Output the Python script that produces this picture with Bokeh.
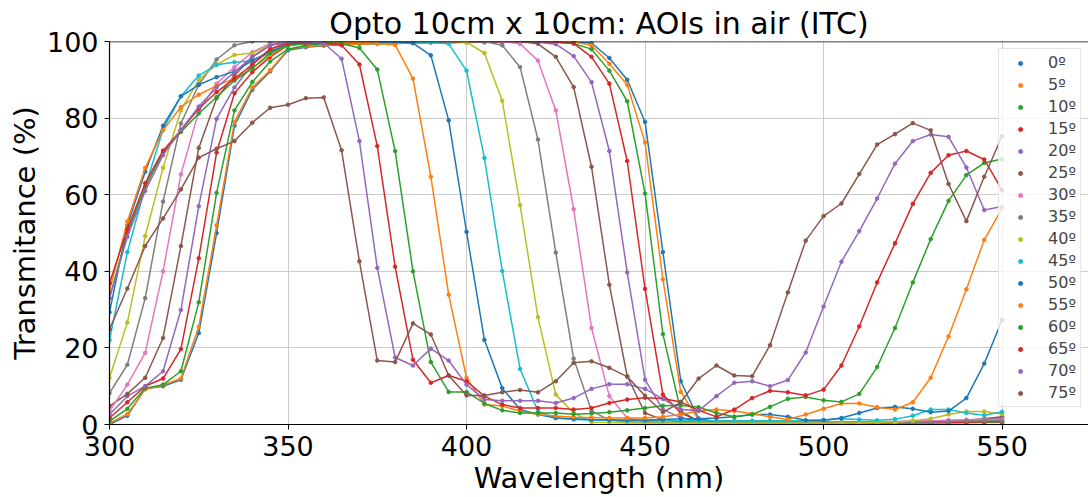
from bokeh.plotting import figure
from bokeh.models import Legend, LegendItem, Span, ColumnDataSource
from bokeh.embed import file_html
from bokeh.resources import INLINE

wavelength = list(range(300, 551, 5))

angle_labels = ["0º", "5º", "10º", "15º", "20º", "25º", "30º", "35º",
                "40º", "45º", "50º", "55º", "60º", "65º", "70º", "75º"]

t_00 = [0, 2.3, 9.3, 10, 11.7, 23.9, 50, 78, 87.4, 92.2, 97.7,
        98.5, 98.9, 99.2, 99.3, 99.4, 99.5, 99.6, 99.7, 99.7, 99.8, 99.8, 99.8, 99.9, 99.9, 99.9, 99.9,
        99.6, 95.7, 90, 79, 45, 11.3,
        1.5, 0.8, 0.6, 0.5, 0.5, 0.5, 0.5, 0.5, 0.5, 0.5, 0.5, 0.5, 0.5, 0.5, 0.5, 0.6, 0.6, 0.7]
t_05 = [0.4, 2.7, 9.2, 10.3, 12, 25.5, 52, 79, 88, 92.5, 98,
        98.7, 99, 99.2, 99.3, 99.4, 99.5, 99.6, 99.7, 99.7, 99.8, 99.8, 99.8, 99.9, 99.9, 99.9, 99.9,
        99, 94.2, 88.7, 73.6, 37.9, 8.5,
        1.2, 0.7, 0.5, 0.4, 0.4, 0.4, 0.4, 0.4, 0.4, 0.4, 0.4, 0.4, 0.4, 0.4, 0.4, 0.5, 0.5, 0.5]
t_10 = [0.9, 4.1, 9.5, 10.4, 13.9, 31.9, 60.5, 82, 89.4, 94.8, 98,
        99, 99.4, 99.6, 99.7, 99.8, 99.8, 99.8, 99.9, 99.9, 99.9, 99.9, 99.9, 99.9, 99.9, 99.9, 99.5,
        98, 92.4, 84.4, 60.3, 23.6, 3.5,
        0.8, 0.5, 0.4, 0.4, 0.4, 0.4, 0.4, 0.4, 0.4, 0.4, 0.4, 0.4, 0.4, 0.5, 0.5, 0.5, 0.6, 0.6]
t_15 = [1.7, 5.8, 10, 12, 19.7, 43.4, 71, 86.5, 92, 96, 99,
        99.5, 99.7, 99.8, 99.9, 99.9, 99.9, 99.9, 99.9, 99.9, 99.9, 99.9, 99.9, 99.9, 99.9, 99.8,
        99.5, 96, 89, 68.8, 35.4, 7.8, 3,
        1, 0.6, 0.5, 0.5, 0.5, 0.5, 0.5, 0.5, 0.5, 0.5, 0.5, 0.5, 0.5, 0.5, 0.6, 0.6, 0.7, 0.8]
t_20 = [2.6, 7.4, 10, 13.9, 29.9, 57, 79.8, 88, 94, 98, 100,
        100, 100, 100, 100, 100, 100, 100, 100, 100, 100, 100, 100, 100, 99.8, 99.3,
        96.2, 89.4, 71.4, 39.7, 11.7, 3.9, 1.8,
        0.8, 0.5, 0.5, 0.5, 0.5, 0.5, 0.5, 0.5, 0.5, 0.5, 0.5, 0.6, 0.6, 0.7, 0.8, 1, 1.3, 1.6]
t_25 = [4.8, 8, 12.2, 22.6, 46.6, 72.2, 85.2, 91.1, 96, 99, 99.8,
        100, 100, 100, 100, 100, 100, 100, 100, 100, 100, 100, 100, 100,
        99.4, 96, 88.1, 67.3, 36.5, 12.6, 3, 1.2, 0.8,
        0.6, 0.6, 0.6, 0.6, 0.6, 0.6, 0.6, 0.6, 0.6, 0.6, 0.7, 0.7, 0.8, 0.9, 1, 1.2, 1.5, 2]
t_30 = [3.5, 10.4, 18.7, 40, 65.3, 81.8, 89, 93.3, 97.2, 99.5, 100,
        100, 100, 100, 100, 100, 100, 100, 100, 100, 100, 100, 100,
        99.4, 95, 82, 56.2, 25.2, 7.4, 1.7, 0.8, 0.5, 0.5,
        0.5, 0.5, 0.5, 0.5, 0.5, 0.5, 0.5, 0.5, 0.6, 0.6, 0.7, 0.8, 0.9, 1, 1.1, 1.2, 1.3, 1.3]
t_35 = [8.2, 15.6, 33, 58.2, 78.6, 88.7, 95.3, 99, 100, 100, 100,
        100, 100, 100, 100, 100, 100, 100, 100, 100, 100, 100,
        99, 93.3, 74.4, 44.9, 17.2, 3.5, 1.2, 0.7, 0.5, 0.5, 0.5,
        0.5, 0.5, 0.5, 0.5, 0.5, 0.5, 0.5, 0.5, 0.5, 0.5, 0.5, 0.5, 0.6, 0.7, 0.8, 0.9, 1, 1]
t_40 = [12.2, 26.6, 49.2, 67, 82, 90, 94, 96.5, 97, 99, 100,
        100, 100, 100, 100, 100, 100, 100, 100, 100, 99.8,
        97, 84.5, 57.3, 28, 7.8, 3, 0.6, 0.5, 0.4, 0.4, 0.4, 0.4,
        0.4, 0.4, 0.4, 0.4, 0.4, 0.4, 0.4, 0.4, 0.4, 0.4, 0.5, 0.6, 1, 1.5, 2.6, 3.4, 3.4, 2.7]
t_45 = [22, 45, 62, 77, 85.7, 91.1, 93.9, 94.6, 95, 97, 99.5,
        99.7, 99.8, 99.9, 99.9, 99.9, 99.9, 99.9, 99.8,
        99.4, 92.4, 69.6, 40.1, 14.5, 3.5, 1.7, 1.3, 1.2, 1.1, 1, 1, 1, 1,
        1, 1, 1, 1, 1, 1, 1, 1.2, 1.5, 1.3, 1.1, 1.4, 2.3, 3.9, 3.9, 3, 2.4, 3.3]
t_50 = [29.3, 52, 66, 78, 85.7, 88.7, 90.7, 92.2, 95, 97.5, 99,
        99.5, 99.7, 99.8, 99.9, 99.9, 99.9,
        99.6, 96.4, 79.4, 50.3, 22.1, 9.5, 3.9, 2.6, 1.7, 1.5, 1.3, 1.2, 1.2, 1.2, 1.3, 1.5,
        1.5, 1.7, 2, 2.6, 2.6, 2, 1.1, 1.1, 1.7, 3, 4.3, 4.6, 4.1, 3.2, 3.5, 6.9, 15.9, 27.3]
t_55 = [35, 53, 67, 76.8, 82.9, 86.1, 88.5, 90.3, 93, 96.5, 99,
        99.5, 99.7, 99.8, 99.8, 99.5,
        99.1, 90.3, 64.7, 33.9, 12.2, 5.2, 4.8, 3.5, 2.6, 2.2, 1.9, 1.8, 1.7, 1.7, 1.7, 2, 2.6,
        3.5, 3.9, 3.5, 2.8, 2, 1.3, 2.6, 4.1, 5.5, 5.5, 4.5, 3.9, 5.8, 12.2, 23, 35.3, 48.2, 56.4]
t_60 = [33, 50, 62, 71, 76.4, 81.2, 85.5, 89.8, 93, 97, 99,
        99.5, 99.7, 99.5,
        98.3, 92.7, 71.4, 40, 16.3, 8.5, 8.5, 5.5, 3.7, 3, 3, 3, 2.7, 2.9, 3.2, 3.7, 4.3, 4.9, 5,
        4.5, 3, 2, 2.6, 4.6, 6.7, 7.2, 6.3, 5.9, 8, 15, 25.2, 37.1, 48.4, 58.4, 65.1, 68.3, 69.3]
t_65 = [36.9, 51, 63, 71.5, 76.8, 82.5, 86.8, 90.3, 94, 98, 99.5,
        99.7, 99.6,
        99, 94, 72.7, 41.2, 16.9, 10.9, 12.8, 11.3, 7.4, 5.2, 4.3, 4.3, 4.3, 3.9, 4.3, 5.6, 6.5, 7, 6.8, 5.9,
        3.7, 2, 3.9, 6.9, 8.8, 8.4, 7.6, 9.1, 15.4, 25.6, 37.1, 47.3, 57.6, 65.7, 70.3, 71.4, 69.2, 61.2]
t_70 = [33, 49, 61, 70.3, 77, 83, 88, 92, 96, 99, 100,
        100, 99.6,
        95.5, 74, 40.9, 17.5, 15.4, 19.8, 16.7, 10.4, 6.5, 6.2, 6.2, 6.2, 5.6, 6.9, 9.3, 10.5, 10.5, 9.3, 6.7, 3.9,
        3.6, 7.4, 10.9, 11.3, 10, 11.6, 18.8, 30.8, 42.5, 50.5, 59, 68.1, 74, 75.7, 75.1, 67.1, 56, 56.9]
t_75 = [24.9, 35.5, 46.6, 53.8, 61.4, 69.7, 72, 74, 78.8, 82.7, 83.5,
        85.2, 85.4,
        71.6, 42.6, 16.7, 16.3, 26.4, 23.5, 12.8, 7.6, 7.6, 8.4, 9, 8.4, 11.3, 16.1, 16.5, 14.8, 12.5, 7.5, 3.2, 5.8,
        12, 15.4, 12.8, 12.6, 20.7, 34.5, 48, 54.4, 57.7, 65.4, 73.1, 75.8, 78.7, 76.8, 62.8, 53.1, 64.7, 75.3]

series = [t_00, t_05, t_10, t_15, t_20, t_25, t_30, t_35,
          t_40, t_45, t_50, t_55, t_60, t_65, t_70, t_75]

palette = ["#1f77b4", "#ff7f0e", "#2ca02c", "#d62728", "#9467bd",
           "#8c564b", "#e377c2", "#7f7f7f", "#bcbd22", "#17becf"]

FONT = "DejaVu Sans"

p = figure(width=1088, height=497, x_range=(300, 574.2), y_range=(0, 100),
           output_backend="svg", toolbar_location=None,
           min_border_left=109, min_border_right=0, min_border_top=41, min_border_bottom=72,
           title="Opto 10cm x 10cm: AOIs in air (ITC)")

p.title.text_font = FONT
p.title.text_font_size = "30px"
p.title.text_font_style = "normal"
p.title.text_color = "black"
p.title.align = "center"
p.title.standoff = 1

p.outline_line_color = None
p.background_fill_color = "white"
p.border_fill_color = "white"

for ax in (p.xaxis, p.yaxis):
    ax.axis_line_color = "black"
    ax.axis_line_width = 1.2
    ax.major_tick_line_color = "black"
    ax.major_tick_out = 5
    ax.major_tick_in = 0
    ax.minor_tick_line_color = None
    ax.major_label_text_font = FONT
    ax.major_label_text_font_size = "27px"
    ax.major_label_text_color = "black"
    ax.axis_label_text_font = FONT
    ax.axis_label_text_font_size = "29px"
    ax.axis_label_text_font_style = "normal"
    ax.axis_label_text_color = "black"

p.xaxis.ticker = [300, 350, 400, 450, 500, 550]
p.yaxis.ticker = [0, 20, 40, 60, 80, 100]
p.xaxis.axis_label = "Wavelength (nm)"
p.yaxis.axis_label = "Transmitance (%)"
p.xaxis.major_label_standoff = 6
p.yaxis.major_label_standoff = 6
p.xaxis.axis_label_standoff = 2
p.yaxis.axis_label_standoff = 2

p.xgrid.grid_line_color = "#cccccc"
p.ygrid.grid_line_color = "#cccccc"
p.xgrid.grid_line_width = 1
p.ygrid.grid_line_width = 1

p.add_layout(Span(location=100, dimension="width", line_color="black", line_width=1.5))

items = []
for i, (lab, vals) in enumerate(zip(angle_labels, series)):
    col = palette[i % 10]
    src = ColumnDataSource(dict(x=wavelength, y=vals))
    p.line("x", "y", source=src, line_color=col, line_width=1.5)
    r = p.scatter("x", "y", source=src, size=3.6, fill_color=col, line_color=col)
    items.append(LegendItem(label=lab, renderers=[r]))

legend = Legend(items=items, location="top_right")
legend.margin = 7
legend.padding = 4
legend.spacing = 3
legend.label_height = 19
legend.glyph_height = 10
legend.glyph_width = 34
legend.label_standoff = 11
legend.label_text_font = FONT
legend.label_text_font_size = "16px"
legend.border_line_color = "#cccccc"
legend.background_fill_alpha = 0.8
p.add_layout(legend)

open("out.html", "w").write(file_html(p, INLINE))
